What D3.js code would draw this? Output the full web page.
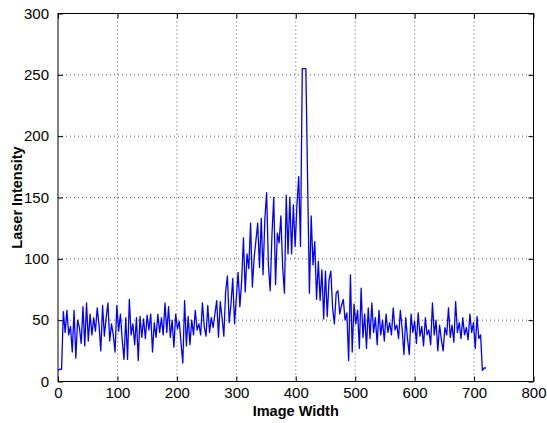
<!DOCTYPE html>
<html>
<meta charset="utf-8">
<script src="https://d3js.org/d3.v7.min.js"></script>
<style>
body { margin: 0; background: white; }
.grid line { stroke: #000; stroke-width: 1; stroke-dasharray: 1,3; opacity: 0.65; }
.tick text { font-family: "Liberation Sans", Arial, sans-serif; font-size: 15px; fill: #000; }
.lbl { font-family: "Liberation Sans", Arial, sans-serif; font-size: 14.5px; font-weight: bold; fill: #000; }
.series { fill: none; stroke: #0000ff; stroke-width: 1.3; stroke-linejoin: round; }
</style>
<body>
<div id="chart"></div>
<script>
// sample spacing along the image width (pixels of the camera line)
var STEP = 3;

var xTicks = [0, 100, 200, 300, 400, 500, 600, 700, 800];
var yTicks = [0, 50, 100, 150, 200, 250, 300];

// laser intensity, one value every STEP pixels (0..720)
var intensity = [
  9, 10, 10, 57, 40, 58, 38, 45, 24, 58, 19, 50, 44, 31, 61, 29, 64, 33, 55, 38,
  52, 41, 60, 46, 25, 62, 37, 52, 64, 33, 47, 38, 24, 62, 41, 55, 34, 18, 52, 18,
  67, 38, 47, 30, 52, 17, 53, 36, 51, 35, 54, 42, 55, 24, 48, 36, 55, 40, 52, 38,
  64, 40, 61, 36, 50, 28, 55, 43, 49, 31, 15, 66, 29, 53, 30, 50, 38, 58, 42, 47,
  38, 64, 45, 37, 62, 40, 52, 44, 55, 66, 36, 65, 52, 37, 73, 86, 48, 63, 84, 47,
  68, 89, 61, 82, 117, 73, 104, 92, 129, 77, 101, 115, 129, 93, 133, 87, 132, 154, 95, 74,
  120, 150, 79, 121, 113, 135, 93, 72, 152, 104, 150, 104, 144, 110, 144, 167, 110, 255, 255, 255,
  162, 72, 135, 95, 114, 67, 98, 66, 91, 51, 90, 53, 83, 90, 60, 47, 72, 74, 55, 62,
  67, 50, 56, 17, 87, 24, 63, 47, 58, 27, 76, 36, 55, 27, 60, 35, 64, 40, 52, 30,
  58, 38, 50, 33, 55, 40, 48, 38, 60, 42, 46, 35, 58, 43, 22, 52, 35, 22, 55, 40,
  49, 31, 56, 37, 45, 29, 52, 38, 42, 30, 64, 38, 50, 25, 46, 34, 25, 44, 38, 60,
  36, 46, 32, 65, 40, 48, 35, 52, 38, 44, 34, 55, 40, 48, 27, 53, 35, 38, 9, 11,
  11
];

var width = 547, height = 423;
var margin = {left: 58, right: 13.5, top: 13.5, bottom: 41.5};
var w = width - margin.left - margin.right,
    h = height - margin.top - margin.bottom;

var svg = d3.select("#chart").append("svg").attr("width", width).attr("height", height);
var g = svg.append("g").attr("transform", "translate(" + margin.left + "," + margin.top + ")");

var x = d3.scaleLinear().domain([0, 800]).range([0, w]);
var y = d3.scaleLinear().domain([0, 300]).range([h, 0]);

// dotted grid
var grid = g.append("g").attr("class", "grid");
grid.selectAll(".gx").data(xTicks.slice(1, -1)).enter().append("line")
  .attr("x1", function(d){ return x(d); }).attr("x2", function(d){ return x(d); })
  .attr("y1", 0).attr("y2", h);
grid.selectAll(".gy").data(yTicks.slice(1, -1)).enter().append("line")
  .attr("y1", function(d){ return y(d); }).attr("y2", function(d){ return y(d); })
  .attr("x1", 0).attr("x2", w);

// data line
var line = d3.line()
  .x(function(d, i){ return x(i * STEP); })
  .y(function(d){ return y(d); });

g.append("path").datum(intensity).attr("class", "series").attr("d", line);

// axes, ticks pointing inward on all four sides
var xAxis = g.append("g").attr("transform", "translate(0," + h + ")")
  .call(d3.axisBottom(x).tickValues(xTicks).tickSizeInner(-5).tickSizeOuter(0).tickPadding(10));
var yAxis = g.append("g")
  .call(d3.axisLeft(y).tickValues(yTicks).tickSizeInner(-5).tickSizeOuter(0).tickPadding(9));
g.append("g")
  .call(d3.axisTop(x).tickValues(xTicks).tickSizeInner(-5).tickSizeOuter(0).tickFormat(""));
g.append("g").attr("transform", "translate(" + w + ",0)")
  .call(d3.axisRight(y).tickValues(yTicks).tickSizeInner(-5).tickSizeOuter(0).tickFormat(""));

g.selectAll(".domain").remove();
g.selectAll(".tick line").attr("stroke", "#000");

g.append("rect").attr("width", w).attr("height", h)
  .attr("fill", "none").attr("stroke", "#000").attr("stroke-width", 1);

xAxis.selectAll("text").attr("dy", "0.71em").attr("y", 6);

svg.append("text").attr("class", "lbl")
  .attr("x", margin.left + w / 2).attr("y", 416)
  .attr("text-anchor", "middle").text("Image Width");

svg.append("text").attr("class", "lbl")
  .attr("transform", "translate(22," + (margin.top + h / 2) + ") rotate(-90)")
  .attr("text-anchor", "middle").text("Laser Intensity");
</script>
</body>
</html>
